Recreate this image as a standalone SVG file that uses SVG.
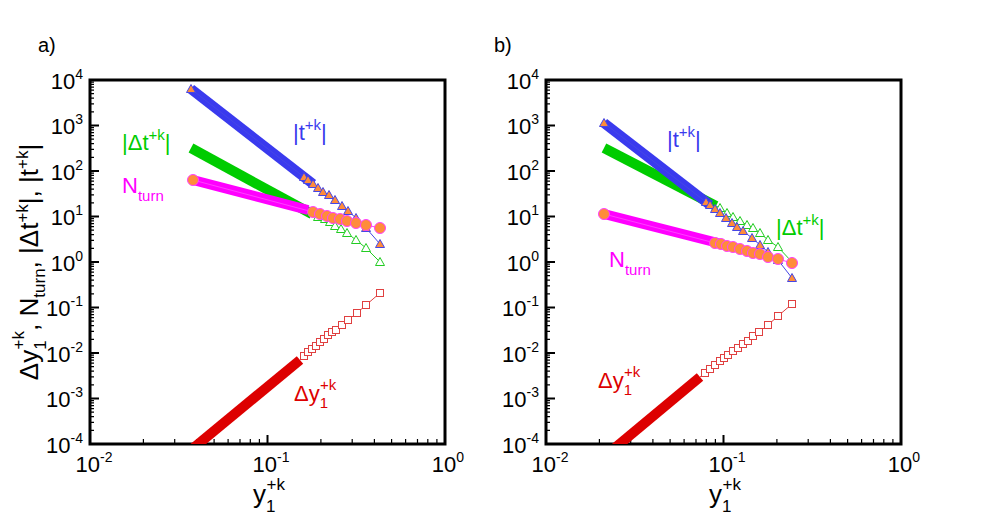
<svg xmlns="http://www.w3.org/2000/svg" xmlns:xlink="http://www.w3.org/1999/xlink" width="981" height="525" viewBox="0 0 981 525">
<style>
text{font-family:"Liberation Sans",Arial,sans-serif;fill:#000}
.tl{font-size:22px}
.ax{fill:none;stroke:#000;stroke-width:3}
.tk{fill:none;stroke:#000;stroke-width:1.2}
.tkM{fill:none;stroke:#000;stroke-width:2}
.thin{fill:none;stroke-width:1}
</style>
<defs>
<marker id="mTri" markerUnits="userSpaceOnUse" markerWidth="12" markerHeight="12" refX="6" refY="6" overflow="visible"><path d="M6 1.5 L10.5 9.5 L1.5 9.5Z" fill="#ff8c3a" stroke="#4646e6" stroke-width="1"/></marker>
<marker id="mTriG" markerUnits="userSpaceOnUse" markerWidth="12" markerHeight="12" refX="6" refY="6" overflow="visible"><path d="M6 1.5 L10.5 9.5 L1.5 9.5Z" fill="#fff" stroke="#22cc22" stroke-width="1"/></marker>
<marker id="mCir" markerUnits="userSpaceOnUse" markerWidth="14" markerHeight="14" refX="7" refY="7" overflow="visible"><circle cx="7" cy="7" r="5.5" fill="#ff8c3a" stroke="#ff40ff" stroke-width="1"/></marker>
<marker id="mSq" markerUnits="userSpaceOnUse" markerWidth="10" markerHeight="10" refX="5" refY="5" overflow="visible"><rect x="1.5" y="1.5" width="7" height="7" fill="#fff" stroke="#e04040" stroke-width="1"/></marker>
<clipPath id="ca"><rect x="90" y="80" width="355" height="364"/></clipPath>
<clipPath id="cb"><rect x="546" y="80" width="355" height="364"/></clipPath>
<g id="axes">
<rect class="ax" x="90" y="80" width="355" height="364"/>
<path class="tkM" d="M267.5 444v-9M90 398.5h9M90 353h9M90 307.5h9M90 262h9M90 216.5h9M90 171h9M90 125.5h9"/>
<path class="tk" d="M143.4 444v-5M174.7 444v-5M196.9 444v-5M214.1 444v-5M228.1 444v-5M240 444v-5M250.3 444v-5M259.4 444v-5M320.9 444v-5M352.2 444v-5M374.4 444v-5M391.6 444v-5M405.6 444v-5M417.5 444v-5M427.8 444v-5M436.9 444v-5
M90 430.3h4M90 422.3h4M90 416.6h4M90 412.2h4M90 408.6h4M90 405.6h4M90 402.9h4M90 400.6h4
M90 384.8h4M90 376.8h4M90 371.1h4M90 366.7h4M90 363.1h4M90 360.1h4M90 357.4h4M90 355.1h4
M90 339.3h4M90 331.3h4M90 325.6h4M90 321.2h4M90 317.6h4M90 314.6h4M90 311.9h4M90 309.6h4
M90 293.8h4M90 285.8h4M90 280.1h4M90 275.7h4M90 272.1h4M90 269.1h4M90 266.4h4M90 264.1h4
M90 248.3h4M90 240.3h4M90 234.6h4M90 230.2h4M90 226.6h4M90 223.6h4M90 220.9h4M90 218.6h4
M90 202.8h4M90 194.8h4M90 189.1h4M90 184.7h4M90 181.1h4M90 178.1h4M90 175.4h4M90 173.1h4
M90 157.3h4M90 149.3h4M90 143.6h4M90 139.2h4M90 135.6h4M90 132.6h4M90 129.9h4M90 127.6h4
M90 111.8h4M90 103.8h4M90 98.1h4M90 93.7h4M90 90.1h4M90 87.1h4M90 84.4h4M90 82.1h4"/>
<g class="tl" text-anchor="end">
<text x="83" y="89">10<tspan font-size="14" dy="-10">4</tspan></text>
<text x="83" y="134">10<tspan font-size="14" dy="-10">3</tspan></text>
<text x="83" y="180">10<tspan font-size="14" dy="-10">2</tspan></text>
<text x="83" y="225">10<tspan font-size="14" dy="-10">1</tspan></text>
<text x="83" y="271">10<tspan font-size="14" dy="-10">0</tspan></text>
<text x="83" y="316">10<tspan font-size="14" dy="-10">-1</tspan></text>
<text x="83" y="362">10<tspan font-size="14" dy="-10">-2</tspan></text>
<text x="83" y="407">10<tspan font-size="14" dy="-10">-3</tspan></text>
<text x="83" y="453">10<tspan font-size="14" dy="-10">-4</tspan></text>
</g>
<g class="tl" text-anchor="middle">
<text x="94" y="472">10<tspan font-size="14" dy="-10">-2</tspan></text>
<text x="271" y="472">10<tspan font-size="14" dy="-10">-1</tspan></text>
<text x="448" y="472">10<tspan font-size="14" dy="-10">0</tspan></text>
</g>
<text x="253" y="503" font-size="26">y<tspan font-size="17" dy="9">1</tspan><tspan font-size="17" dx="-9" dy="-22">+k</tspan></text>
</g>
</defs>

<g id="panel-a">
<use xlink:href="#axes"/>
<text x="38" y="52" font-size="20">a)</text>
<text transform="translate(38,262) rotate(-90)" text-anchor="middle" font-size="26">Δy<tspan font-size="17" dy="8">1</tspan><tspan font-size="17" dx="-9" dy="-22">+k</tspan><tspan dy="14">, N</tspan><tspan font-size="17" dy="7">turn</tspan><tspan dy="-7">, |Δt</tspan><tspan font-size="17" dy="-10">+k</tspan><tspan dy="10">|, |t</tspan><tspan font-size="17" dy="-10">+k</tspan><tspan dy="10">|</tspan></text>
<g clip-path="url(#ca)">
<g id="a-t">
<path d="M191 89 L313 184" stroke="#3a3aee" stroke-width="10" fill="none"/>
<polyline class="thin" stroke="#4646e6" marker-start="url(#mTri)" marker-mid="url(#mTri)" marker-end="url(#mTri)" points="191,89 304,177 308,180 313,184 318,188 323,192 329,195 335,200 342,206 348,211 356,218 366,228 380,244"/>
</g>
<g id="a-dt">
<path d="M191 148 L312 214" stroke="#00cc00" stroke-width="10" fill="none"/>
<polyline class="thin" stroke="#22cc22" marker-mid="url(#mTriG)" marker-end="url(#mTriG)" points="312,214 318,217 325,219 330,222 335,226 341,229 347,233 356,240 366,248 380,262"/>
</g>
<g id="a-n">
<path d="M193 180 L308 210" stroke="#ff00ff" stroke-width="10" fill="none"/>
<polyline class="thin" stroke="#ff40ff" marker-start="url(#mCir)" marker-mid="url(#mCir)" marker-end="url(#mCir)" points="193,180 313,212 320,214 327,216 333,218 340,219 347,221 356,223 366,225 380,228"/>
</g>
<g id="a-dy">
<path d="M191 450 L300 360" stroke="#dd0000" stroke-width="10" fill="none"/>
<polyline class="thin" stroke="#e04040" marker-mid="url(#mSq)" marker-end="url(#mSq)" points="300,360 304,356 308,352 312,349 316,346 320,342 324,339 328,335 332,332 336,330 342,325 348,320 357,313 366,305 380,293"/>
</g>
</g>
<text x="293" y="140" font-size="22" style="fill:#3a3aee">|t<tspan font-size="15" dy="-10">+k</tspan><tspan dy="10">|</tspan></text>
<text x="122" y="150" font-size="22" style="fill:#00cc00">|Δt<tspan font-size="15" dy="-10">+k</tspan><tspan dy="10">|</tspan></text>
<text x="122" y="193" font-size="22" style="fill:#ff00ff">N<tspan font-size="15" dy="8">turn</tspan></text>
<text x="294" y="401" font-size="22" style="fill:#dd0000">Δy<tspan font-size="15" dy="7">1</tspan><tspan font-size="15" dx="-8" dy="-18">+k</tspan></text>
</g>

<g id="panel-b">
<use xlink:href="#axes" transform="translate(456,0)"/>
<text x="494" y="52" font-size="20">b)</text>
<g clip-path="url(#cb)">
<g id="b-dt">
<path d="M604 148 L716 206" stroke="#00cc00" stroke-width="10" fill="none"/>
<polyline class="thin" stroke="#22cc22" marker-mid="url(#mTriG)" marker-end="url(#mTriG)" points="716,206 720,208 727,213 733,217 740,221 747,225 753,228 760,233 768,240 778,247 792,262"/>
</g>
<g id="b-t">
<path d="M604 123 L710 205" stroke="#3a3aee" stroke-width="10" fill="none"/>
<polyline class="thin" stroke="#4646e6" marker-start="url(#mTri)" marker-mid="url(#mTri)" marker-end="url(#mTri)" points="604,123 706,202 710,205 715,209 720,213 726,218 732,223 737,227 743,231 752,238 760,245 768,252 778,260 792,278"/>
</g>
<g id="b-n">
<path d="M604 214 L722 244" stroke="#ff00ff" stroke-width="10" fill="none"/>
<polyline class="thin" stroke="#ff40ff" marker-start="url(#mCir)" marker-mid="url(#mCir)" marker-end="url(#mCir)" points="604,214 715,243 721,244 727,246 733,247 740,249 747,251 753,253 760,254 768,257 778,259 792,263"/>
</g>
<g id="b-dy">
<path d="M610 452 L700 377" stroke="#dd0000" stroke-width="10" fill="none"/>
<polyline class="thin" stroke="#e04040" marker-mid="url(#mSq)" marker-end="url(#mSq)" points="700,377 705,373 710,369 715,365 720,361 724,358 728,355 733,351 738,348 743,344 748,341 753,336 759,332 768,325 778,316 792,304"/>
</g>
</g>
<text x="667" y="147" font-size="22" style="fill:#3a3aee">|t<tspan font-size="15" dy="-10">+k</tspan><tspan dy="10">|</tspan></text>
<text x="776" y="235" font-size="22" style="fill:#00cc00">|Δt<tspan font-size="15" dy="-10">+k</tspan><tspan dy="10">|</tspan></text>
<text x="609" y="267" font-size="22" style="fill:#ff00ff">N<tspan font-size="15" dy="8">turn</tspan></text>
<text x="598" y="388" font-size="22" style="fill:#dd0000">Δy<tspan font-size="15" dy="7">1</tspan><tspan font-size="15" dx="-8" dy="-18">+k</tspan></text>
</g>
</svg>
